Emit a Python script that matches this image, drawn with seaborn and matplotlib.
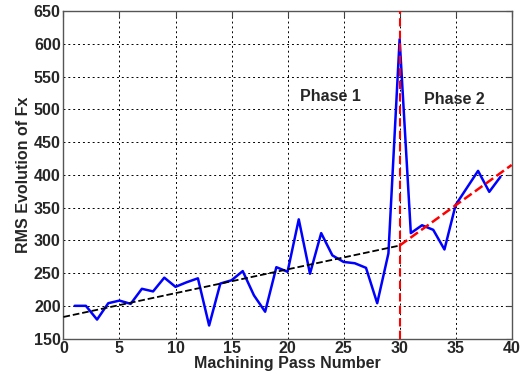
import numpy as np
import pandas as pd
import matplotlib
matplotlib.use("Agg")
import matplotlib.pyplot as plt
import seaborn as sns

# Data
passes = list(range(1, 40))
rms_fx = [200, 200, 179, 204, 208, 203, 226, 222, 243, 229, 236, 242, 170, 234, 239,
          253, 216, 191, 259, 252, 332, 249, 311, 277, 267, 265, 258, 204, 280, 607,
          311, 323, 316, 286, 354, 380, 406, 374, 397]
trend1_x = [0, 30]
trend1_y = [183, 292]
trend2_x = [30, 40]
trend2_y = [292, 415]
phase_split = 30
xticks = list(range(0, 41, 5))
yticks = list(range(150, 651, 50))

sns.set_style("white")
plt.rcParams['font.family'] = ['Liberation Sans', 'DejaVu Sans']
plt.rcParams['font.weight'] = 'bold'

FS = 11.5
fig = plt.figure(figsize=(5.2, 3.8), dpi=100)
ax = fig.add_axes([0.122, 0.109, 0.862, 0.862])

df = pd.DataFrame({"pass": passes, "rms": rms_fx})
sns.lineplot(data=df, x="pass", y="rms", ax=ax, color="#0000ff", linewidth=1.8, zorder=3)
sns.lineplot(x=trend1_x, y=trend1_y, ax=ax, color="black", linestyle="--", linewidth=1.3, zorder=4)
sns.lineplot(x=trend2_x, y=trend2_y, ax=ax, color="red", linestyle="--", linewidth=1.8, zorder=4)
ax.axvline(phase_split, color="red", linestyle=(0, (4, 2)), linewidth=1.5, zorder=5)

ax.text(23.8, 519, "Phase 1", ha="center", va="center", fontsize=FS, fontweight="bold")
ax.text(34.9, 515, "Phase 2", ha="center", va="center", fontsize=FS, fontweight="bold")

ax.set_xlim(0, 40)
ax.set_ylim(150, 650)
ax.set_xticks(xticks)
ax.set_yticks(yticks)
ax.grid(True, color="black", linestyle=(0, (2, 3)), linewidth=0.7)
ax.tick_params(direction="in", top=True, right=True, length=4, labelsize=FS, color="#444444", pad=2)
for lab in ax.get_xticklabels() + ax.get_yticklabels():
    lab.set_fontweight("bold")
for s in ax.spines.values():
    s.set_color("#555555")
    s.set_linewidth(1.0)
ax.set_xlabel("Machining Pass Number", fontsize=FS, fontweight="bold", labelpad=0)
ax.set_ylabel("RMS Evolution of Fx", fontsize=FS, fontweight="bold", labelpad=2)

fig.savefig("out.png", dpi=100)
